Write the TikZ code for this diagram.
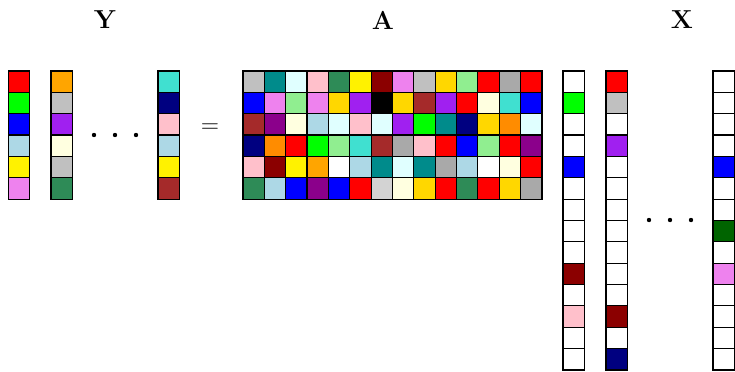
\documentclass[tikz,border=0pt]{standalone}
\usepackage{xcolor}
\usepackage{amsmath}
\usepackage{tikz}
\definecolor{lime}{HTML}{00FF00}
\definecolor{lblue}{HTML}{ADD8E6}
\definecolor{violet}{HTML}{EE82EE}
\definecolor{orange}{HTML}{FFA500}
\definecolor{dorange}{HTML}{FF8C00}
\definecolor{silver}{HTML}{C0C0C0}
\definecolor{purple}{HTML}{A020F0}
\definecolor{lyellow}{HTML}{FFFFE0}
\definecolor{sgreen}{HTML}{2E8B57}
\definecolor{turq}{HTML}{40E0D0}
\definecolor{navy}{HTML}{000080}
\definecolor{pink}{HTML}{FFC0CB}
\definecolor{brown}{HTML}{A52A2A}
\definecolor{dcyan}{HTML}{008B8B}
\definecolor{lcyan}{HTML}{E0FFFF}
\definecolor{dred}{HTML}{8B0000}
\definecolor{gold}{HTML}{FFD700}
\definecolor{lgreen}{HTML}{90EE90}
\definecolor{dgray}{HTML}{A9A9A9}
\definecolor{lgray}{HTML}{D3D3D3}
\definecolor{dmagenta}{HTML}{8B008B}
\definecolor{dgreen}{HTML}{006400}
\tikzset{cell/.style={draw=black, line width=0.6pt}}
\newcommand{\cs}{21.35}
\newcommand{\colvec}[2]{%
 \foreach \c [count=\i from 0] in {#2} {
  \draw[cell, fill=\c] (#1,71+\i*\cs) rectangle ++(\cs,\cs);
 }
}

\begin{document}
\begin{tikzpicture}[x=0.5pt, y=-0.5pt]
\useasboundingbox (0,0) rectangle (735,371);
\node[font=\fontsize{13}{15}\selectfont\bfseries] (ylab) at (105,20) {Y};
\node[font=\fontsize{13}{15}\selectfont\bfseries] (alab) at (383,20) {A};
\node[font=\fontsize{13}{15}\selectfont\bfseries] (xlab) at (682,20) {X};
\node[font=\large] (eq) at (210,128) {$=$};
% Y
\colvec{8.5}{red,lime,blue,lblue,yellow,violet}
\colvec{51}{orange,silver,purple,lyellow,silver,sgreen}
\colvec{158}{turq,navy,pink,lblue,yellow,brown}
\foreach \x in {94,115,136} {
 \fill (\x,135) circle (1.1pt);
}
% A
\foreach \row [count=\j from 0] in {
 {silver,dcyan,lcyan,pink,sgreen,yellow,dred,violet,silver,gold,lgreen,red,dgray,red},
 {blue,violet,lgreen,violet,gold,purple,black,gold,brown,purple,red,lyellow,turq,blue},
 {brown,dmagenta,lyellow,lblue,lcyan,pink,lcyan,purple,lime,dcyan,navy,gold,dorange,lcyan},
 {navy,dorange,red,lime,lgreen,turq,brown,dgray,pink,red,blue,lgreen,red,dmagenta},
 {pink,dred,yellow,orange,white,lblue,dcyan,lcyan,dcyan,dgray,lblue,white,lyellow,red},
 {sgreen,lblue,blue,dmagenta,blue,red,lgray,lyellow,gold,red,sgreen,red,gold,dgray}} {
 \foreach \c [count=\i from 0] in \row {
  \draw[cell, fill=\c] (243+\i*\cs,71+\j*\cs) rectangle ++(\cs,\cs);
 }
}
% X
\colvec{563}{white,lime,white,white,blue,white,white,white,white,dred,white,pink,white,white}
\colvec{606}{red,silver,white,purple,white,white,white,white,white,white,white,dred,white,navy}
\colvec{713}{white,white,white,white,blue,white,white,dgreen,white,violet,white,white,white,white}
\foreach \x in {649,670,691} {
 \fill (\x,220) circle (1.1pt);
}
\end{tikzpicture}
\end{document}
